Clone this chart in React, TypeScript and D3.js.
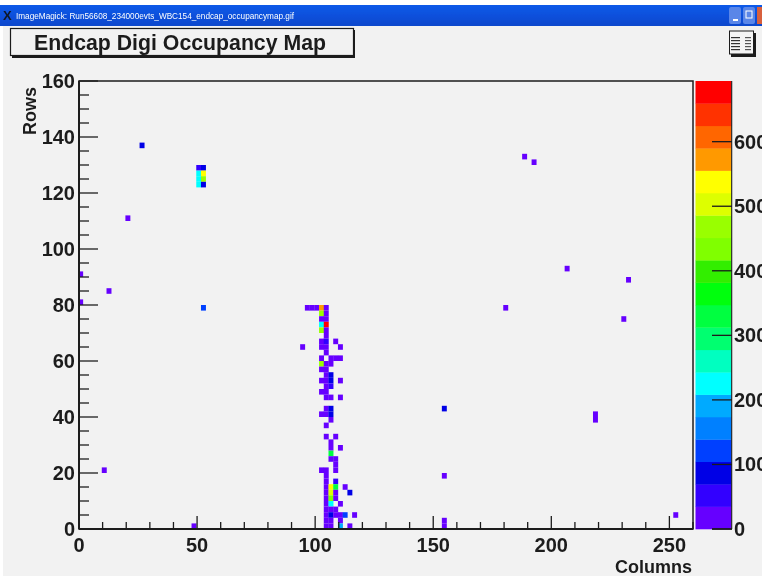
import React from "react";
import * as d3 from "d3";

const title = "Endcap Digi Occupancy Map";
const windowTitle = "ImageMagick: Run56608_234000evts_WBC154_endcap_occupancymap.gif";
const xMajor = [0, 50, 100, 150, 200, 250];
const yMajor = [0, 20, 40, 60, 80, 100, 120, 140, 160];
const zMajor = [0, 100, 200, 300, 400, 500, 600];
const palette = ["#6600ff","#3300ff","#0000e6","#0040ff","#0080ff","#00aaff","#00ffff","#00ffc0","#00ff70","#00ff40","#00ff10","#33ee00","#80ff00","#99ff00","#ddff00","#ffff00","#ff9900","#ff6600","#ff3300","#ff0000"];

// [column, row, occupancy]
const isolatedBins: number[][] = [
  [26,136,87],[188,132,17],[192,130,17],
  [50,128,52],[52,128,87],[50,126,225],[52,126,538],[50,124,225],[52,124,468],[50,122,225],[52,122,87],
  [20,110,17],[206,92,17],[0,90,17],[232,88,17],[12,84,17],[0,80,17],[52,78,121],[180,78,17],[230,74,17],
  [154,42,87],[218,40,17],[218,38,17],[10,20,17],[154,18,17],[252,4,17],[48,0,17],[154,2,17],[154,0,17],
];
const upperColumn: number[][] = [
  [96,78,17],[98,78,17],[100,78,17],[102,78,572],[104,78,17],
  [102,76,468],[104,76,17],[102,74,17],[104,74,17],[102,72,225],[104,72,677],
  [102,70,468],[104,70,17],[104,68,17],[102,66,17],[104,66,52],[108,66,17],
  [94,64,17],[102,64,17],[104,64,17],[110,64,17],[104,62,17],
  [102,60,17],[106,60,17],[108,60,17],[110,60,17],
  [102,58,468],[104,58,17],[106,58,17],[102,56,17],[104,56,17],
  [104,54,17],[106,54,87],[102,52,17],[104,52,17],[106,52,87],[110,52,17],
  [104,50,17],[106,50,52],[102,48,17],[104,48,17],[104,46,17],[106,46,17],[110,46,17],
  [104,42,17],[106,42,87],[102,40,17],[104,40,17],[106,40,87],
];
const lowerColumn: number[][] = [
  [106,38,17],[104,36,17],[104,32,17],[108,32,17],[106,30,17],[106,28,17],[110,28,17],
  [106,26,330],[106,24,17],[108,24,17],[108,22,17],
  [102,20,17],[104,20,17],[108,20,17],[104,18,17],[104,16,17],[108,16,52],
  [104,14,17],[106,14,538],[108,14,330],[112,14,17],
  [104,12,17],[106,12,503],[108,12,17],[114,12,87],
  [104,10,17],[106,10,434],[108,10,17],[104,8,17],[106,8,225],[110,8,17],
  [104,6,17],[106,6,17],[108,6,17],
  [104,4,17],[106,4,87],[108,4,17],[110,4,17],[112,4,121],[116,4,17],
  [104,2,17],[106,2,17],[110,2,17],
  [104,0,17],[106,0,17],[110,0,191],[114,0,17],
];

const W = 762, H = 576;
const X0 = 79, X1 = 693, Y0 = 529, Y1 = 81;
const FONT = "'Liberation Sans', Arial, sans-serif";
const INK = "#1c1c1c";

export default function App() {
  const x = d3.scaleLinear().domain([0, 260]).range([X0, X1]);
  const y = d3.scaleLinear().domain([0, 160]).range([Y0, Y1]);
  const z = d3.scaleLinear().domain([0, 694]).range([Y0, Y1]);
  const color = d3.scaleQuantize<string>().domain([0, 694]).range(palette);
  const bins = [...isolatedBins, ...upperColumn, ...lowerColumn];
  const xMinor = d3.range(0, 261, 10).filter((t) => t % 50 !== 0);
  const yMinor = d3.range(0, 161, 5).filter((t) => t % 20 !== 0);
  const bands = d3.range(palette.length);
  const bandH = (Y0 - Y1) / palette.length;
  const tick = { fontFamily: FONT, fontWeight: 700, fontSize: 20, fill: INK } as const;

  return (
    <svg width={W} height={H} viewBox={`0 0 ${W} ${H}`} style={{ position: "absolute", left: 0, top: 0, display: "block" }}>
      <defs>
        <filter id="soft" x="-2%" y="-2%" width="104%" height="104%">
          <feGaussianBlur stdDeviation="0.55" />
        </filter>
        <linearGradient id="bar" x1="0" y1="0" x2="0" y2="1">
          <stop offset="0" stopColor="#0a5ae8" />
          <stop offset="0.5" stopColor="#0a50dc" />
          <stop offset="1" stopColor="#0c48cc" />
        </linearGradient>
      </defs>
      <rect width={W} height={H} fill="#ffffff" />
      <g filter="url(#soft)">
        <rect x={3} y={26} width={W - 3} height={H - 26} fill="#f2f2f2" />
        <rect x={0} y={5} width={W} height={21} fill="url(#bar)" />
        <text x={3} y={20} fontFamily={FONT} fontSize={13} fontWeight={700} fill="#101828">X</text>
        <text x={16} y={19} fontFamily={FONT} fontSize={9.4} fill="#ffffff" textLength={278} lengthAdjust="spacingAndGlyphs">{windowTitle}</text>
        <rect x={729} y={7} width={12} height={17} rx={2} fill="#5a86e8" />
        <rect x={733} y={19} width={5} height={2} fill="#ffffff" />
        <rect x={743} y={7} width={12} height={17} rx={2} fill="#5a86e8" />
        <rect x={746} y={11} width={6} height={7} fill="none" stroke="#ffffff" />
        <rect x={757} y={7} width={5} height={17} fill="#d8603c" />

        <rect x={12} y={30} width={343} height={28} fill="#1c1c1c" />
        <rect x={10.5} y={28.5} width={343} height={27} fill="#f2f2f2" stroke={INK} strokeWidth={1.2} />
        <text x={34} y={50} fontFamily={FONT} fontWeight={700} fontSize={21.5} fill={INK} textLength={292} lengthAdjust="spacingAndGlyphs">{title}</text>

        <rect x={731} y={33} width={25} height={24} fill={INK} />
        <rect x={729.5} y={31} width={24} height={23} fill="#f4f4f4" stroke={INK} />
        {[37, 40, 43, 46, 49].map((v) => (
          <g key={v}>
            <rect x={731} y={v} width={9} height={1.2} fill="#333" />
            <rect x={745} y={v} width={6} height={1.2} fill="#555" />
          </g>
        ))}

        {bins.map(([c, r, v], i) => (
          <rect key={i} x={x(c - 0.35)} y={y(r + 2)} width={x(2.1) - x(0)} height={y(0) - y(2)} fill={color(v)} />
        ))}

        <rect x={X0} y={Y1} width={X1 - X0} height={Y0 - Y1} fill="none" stroke={INK} strokeWidth={1.5} />
        <line x1={X0} x2={X1} y1={Y0} y2={Y0} stroke={INK} strokeWidth={2} />
        <line x1={X0} x2={X0} y1={Y0} y2={Y1} stroke={INK} strokeWidth={2} />

        {xMinor.map((t) => <line key={t} x1={x(t)} x2={x(t)} y1={Y0} y2={Y0 - 7} stroke={INK} strokeWidth={1.3} />)}
        {xMajor.map((t) => <line key={t} x1={x(t)} x2={x(t)} y1={Y0} y2={Y0 - 13} stroke={INK} strokeWidth={1.3} />)}
        {yMinor.map((t) => <line key={t} x1={X0} x2={X0 + 10} y1={y(t)} y2={y(t)} stroke={INK} strokeWidth={1.3} />)}
        {yMajor.map((t) => <line key={t} x1={X0} x2={X0 + 19} y1={y(t)} y2={y(t)} stroke={INK} strokeWidth={1.3} />)}

        {xMajor.map((t) => <text key={t} x={x(t)} y={552} textAnchor="middle" {...tick}>{t}</text>)}
        {yMajor.map((t) => <text key={t} x={75} y={y(t) + 7} textAnchor="end" {...tick}>{t}</text>)}

        <text x={692} y={573} textAnchor="end" fontFamily={FONT} fontWeight={700} fontSize={18} fill={INK}>Columns</text>
        <text transform="translate(36,135) rotate(-90)" fontFamily={FONT} fontWeight={700} fontSize={18} fill={INK}>Rows</text>

        {bands.map((b) => (
          <rect key={b} x={695.5} y={Y0 - (b + 1) * bandH} width={36} height={bandH + 0.3} fill={palette[b]} />
        ))}
        <line x1={731.7} x2={731.7} y1={Y1} y2={Y0} stroke={INK} strokeWidth={1.1} />
        <line x1={712} x2={732} y1={Y0} y2={Y0} stroke={INK} strokeWidth={1.5} />
        {zMajor.map((t) => (
          <g key={t}>
            <line x1={712} x2={732} y1={z(t)} y2={z(t)} stroke={INK} strokeWidth={1.3} />
            <text x={734} y={z(t) + 7} {...tick}>{t}</text>
          </g>
        ))}
      </g>
    </svg>
  );
}
